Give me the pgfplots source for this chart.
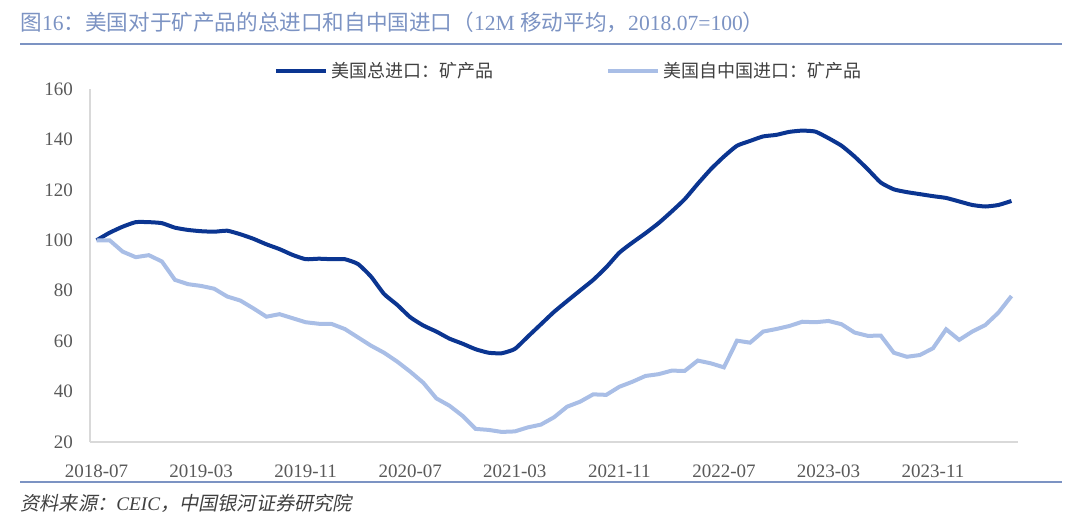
\documentclass[border=0pt]{standalone}
\usepackage{fontspec}
\setmainfont{Liberation Serif}
\newfontfamily\cjk{Noto Sans CJK SC}
\newfontfamily\cjkit[FakeSlant=0.2]{Noto Sans CJK SC}
\usepackage{pgfplots}
\pgfplotsset{compat=1.18}
\definecolor{navy}{HTML}{0B3591}
\definecolor{pale}{HTML}{A9BEE6}
\definecolor{titleblue}{HTML}{7C93C3}
\definecolor{txt}{HTML}{595959}
\definecolor{legtxt}{HTML}{404040}
\definecolor{axisgray}{HTML}{D9D9D9}

% 12M moving average, 2018.07 = 100; x = months since 2018-07
\pgfplotstableread{
x total china
0 100 100
1 103 100
2 105.4 95.5
3 107.2 93.3
4 107.2 94.1
5 106.8 91.6
6 105 84.3
7 104.1 82.6
8 103.6 81.9
9 103.4 80.8
10 103.8 77.7
11 102.4 76.1
12 100.6 73.0
13 98.4 69.7
14 96.5 70.7
15 94.2 69.1
16 92.5 67.5
17 92.7 66.9
18 92.5 66.8
19 92.5 64.8
20 90.6 61.5
21 85.6 58.2
22 78.7 55.4
23 74.4 51.9
24 69.5 47.9
25 66.2 43.5
26 63.8 37.3
27 61 34.4
28 59 30.4
29 56.8 25.2
30 55.4 24.8
31 55.2 24.0
32 56.9 24.2
33 61.8 25.8
34 66.7 26.9
35 71.6 29.8
36 75.9 34.0
37 80.1 36.0
38 84.3 38.9
39 89.3 38.7
40 95.1 41.9
41 99.1 43.9
42 102.8 46.2
43 106.8 46.9
44 111.4 48.3
45 116.3 48.2
46 122.4 52.3
47 128.2 51.2
48 133.2 49.6
49 137.5 60.2
50 139.4 59.4
51 141.2 63.8
52 141.8 64.8
53 143 66
54 143.5 67.7
55 143.1 67.5
56 140.5 68.0
57 137.5 66.7
58 133.2 63.4
59 128.2 62.1
60 122.9 62.2
61 120.2 55.4
62 119.1 53.8
63 118.3 54.5
64 117.5 57.2
65 116.8 64.7
66 115.4 60.5
67 114.0 63.8
68 113.4 66.4
69 114.0 71.3
70 115.6 77.9
}\datatable

\begin{document}
\begin{tikzpicture}
\useasboundingbox (0,0) rectangle (540pt,263.5pt);

% title and rules
\node[anchor=west, inner sep=0, text=titleblue, font=\fontsize{10.8}{12}\selectfont]
  at (10pt,252.5pt) {{\cjk 图}16{\cjk ：美国对于矿产品的总进口和自中国进口（}12M {\cjk 移动平均，}2018.07=100{\cjk ）}};
\draw[titleblue, line width=1pt] (10pt,241.5pt) -- (531pt,241.5pt);
\draw[titleblue, line width=1pt] (10pt,22.5pt) -- (531pt,22.5pt);
\node[anchor=west, inner sep=0, text=legtxt, font=\fontsize{9.6}{11}\selectfont]
  at (10pt,12pt) {{\cjkit 资料来源：}{\itshape CEIC}{\cjkit ，中国银河证券研究院}};

\begin{axis}[
  at={(45pt,42.5pt)}, anchor=south west,
  scale only axis, width=464pt, height=176.5pt,
  xmin=-0.5, xmax=70.5, ymin=20, ymax=160,
  axis lines=left,
  axis line style={-, draw=axisgray, line width=0.8pt},
  ytick={20,40,...,160},
  xtick={0,8,...,64},
  xticklabels={2018-07,2019-03,2019-11,2020-07,2021-03,2021-11,2022-07,2023-03,2023-11},
  major tick length=0pt,
  tick label style={font=\fontsize{9.5}{11}\selectfont, text=txt},
  /pgf/number format/assume math mode=true,
  xticklabel style={yshift=-8pt},
  yticklabel style={xshift=-5pt},
  legend style={at={(0.517,1.051)}, anchor=center, draw=none, fill=none,
    legend columns=2, text=legtxt, font=\cjk\fontsize{9}{11}\selectfont,
    /tikz/column 2/.style={column sep=54pt}},
  legend image code/.code={\draw[#1] (0pt,0pt) -- (25pt,0pt);},
]
\addplot[navy, line width=2pt, smooth, tension=0.3] table[x=x, y=total] {\datatable};
\addlegendentry{美国总进口：矿产品}
\addplot[pale, line width=2pt] table[x=x, y=china] {\datatable};
\addlegendentry{美国自中国进口：矿产品}
\end{axis}
\end{tikzpicture}
\end{document}
